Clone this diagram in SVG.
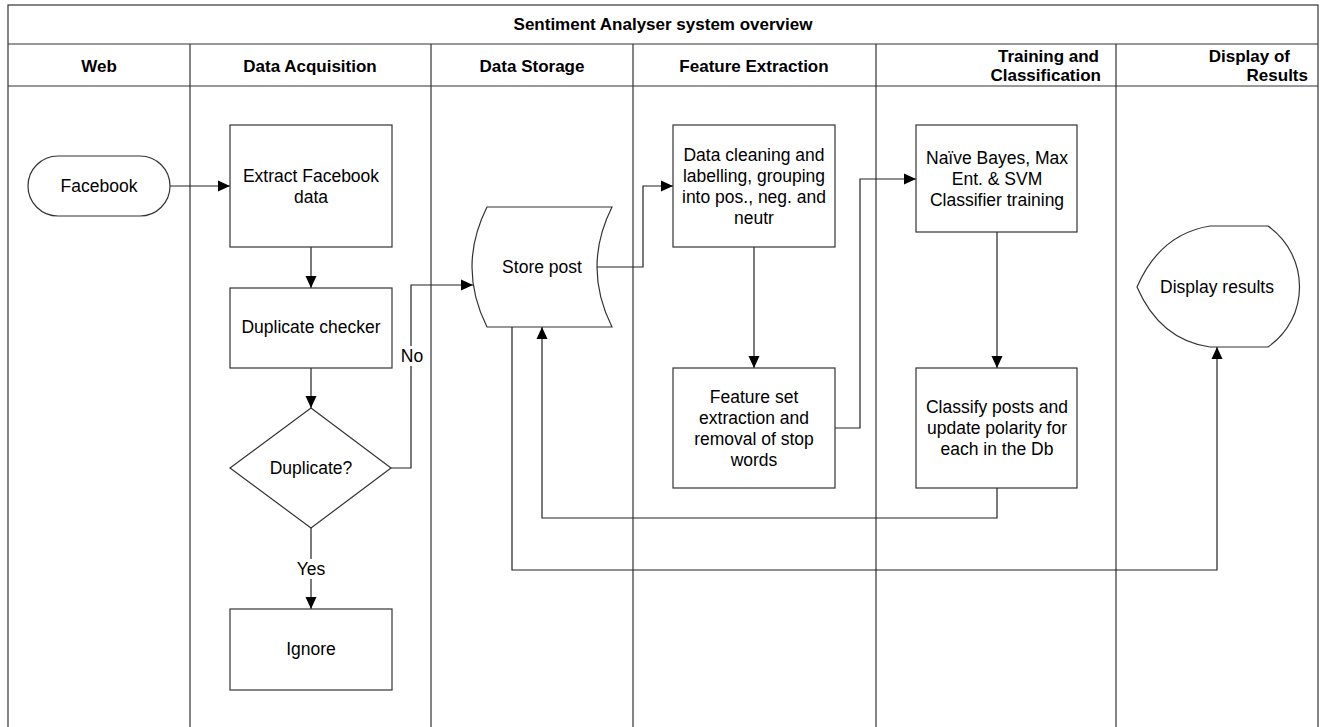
<svg xmlns="http://www.w3.org/2000/svg" width="1323" height="727" viewBox="0 0 1323 727">
<style>
.lane{fill:none;stroke:#333;stroke-width:1.2}
.node{fill:#fff;stroke:#333;stroke-width:1.2}
.t{font-family:"Liberation Sans",Arial,sans-serif;font-size:17.5px;fill:#000;text-anchor:middle;dominant-baseline:central}
.h{font-family:"Liberation Sans",Arial,sans-serif;font-size:17px;font-weight:bold;fill:#000;text-anchor:middle;dominant-baseline:central}
.c{fill:none;stroke:#222;stroke-width:1.2}
.lbl{fill:#fff;stroke:none}
</style>
<defs>
<marker id="arr" markerUnits="userSpaceOnUse" markerWidth="12" markerHeight="12" viewBox="0 0 12 12" refX="12" refY="6" orient="auto">
<path d="M0,0.5 L12,6 L0,11.5 Z" fill="#000"/>
</marker>
</defs>
<rect width="1323" height="727" fill="#fff"/>
<g id="swimlanes">
<rect class="lane" x="8" y="5" width="1310" height="730"/>
<line class="lane" x1="8" y1="44" x2="1318" y2="44"/>
<line class="lane" x1="8" y1="86" x2="1318" y2="86"/>
<line class="lane" x1="190" y1="44" x2="190" y2="727"/>
<line class="lane" x1="431" y1="44" x2="431" y2="727"/>
<line class="lane" x1="633" y1="44" x2="633" y2="727"/>
<line class="lane" x1="876" y1="44" x2="876" y2="727"/>
<line class="lane" x1="1116" y1="44" x2="1116" y2="727"/>
<text class="h" x="663" y="24">Sentiment Analyser system overview</text>
<text class="h" x="99" y="66">Web</text>
<text class="h" x="310" y="66">Data Acquisition</text>
<text class="h" x="532" y="66">Data Storage</text>
<text class="h" x="754" y="66">Feature Extraction</text>
<text class="h" x="1099" y="56" style="text-anchor:end">Training and</text>
<text class="h" x="1101" y="75" style="text-anchor:end">Classification</text>
<text class="h" x="1290" y="56" style="text-anchor:end">Display of</text>
<text class="h" x="1308" y="75" style="text-anchor:end">Results</text>
</g>
<g id="connectors">
<path class="c" d="M170,186 H230" marker-end="url(#arr)"/>
<path class="c" d="M311,247 V288" marker-end="url(#arr)"/>
<path class="c" d="M311,368 V408" marker-end="url(#arr)"/>
<path class="c" d="M311,528 V609" marker-end="url(#arr)"/>
<rect class="lbl" x="294" y="559" width="34" height="20"/>
<text class="t" x="311" y="569">Yes</text>
<path class="c" d="M391,468 H411 V285 H473" marker-end="url(#arr)"/>
<rect class="lbl" x="400" y="346" width="24" height="20"/>
<text class="t" x="412" y="356">No</text>
<path class="c" d="M597,267 H643 V186 H673" marker-end="url(#arr)"/>
<path class="c" d="M754,247 V368" marker-end="url(#arr)"/>
<path class="c" d="M835,428 H860 V179 H916" marker-end="url(#arr)"/>
<path class="c" d="M997,232 V368" marker-end="url(#arr)"/>
<path class="c" d="M997,488 V518 H542 V327" marker-end="url(#arr)"/>
<path class="c" d="M512,327 V570 H1217 V347" marker-end="url(#arr)"/>
</g>
<g id="facebook">
<rect class="node" x="28" y="156" width="142" height="60" rx="30"/>
<text class="t" x="99" y="186">Facebook</text>
</g>
<g id="extract">
<rect class="node" x="230" y="125" width="162" height="122"/>
<text class="t" x="311" y="175.5">Extract Facebook</text>
<text class="t" x="311" y="196.5">data</text>
</g>
<g id="dupchecker">
<rect class="node" x="230" y="288" width="162" height="80"/>
<text class="t" x="311" y="327">Duplicate checker</text>
</g>
<g id="duplicate">
<polygon class="node" points="311,408 391,468 311,528 230,468"/>
<text class="t" x="311" y="468">Duplicate?</text>
</g>
<g id="ignore">
<rect class="node" x="230" y="609" width="162" height="81"/>
<text class="t" x="311" y="649">Ignore</text>
</g>
<g id="store">
<path class="node" d="M487,207 L612,207 Q582,267 612,327 L487,327 Q457,267 487,207 Z"/>
<text class="t" x="542" y="267">Store post</text>
</g>
<g id="cleaning">
<rect class="node" x="673" y="125" width="162" height="122"/>
<text class="t" x="754" y="155">Data cleaning and</text>
<text class="t" x="754" y="176">labelling, grouping</text>
<text class="t" x="754" y="197">into pos., neg. and</text>
<text class="t" x="754" y="218">neutr</text>
</g>
<g id="features">
<rect class="node" x="673" y="368" width="162" height="120"/>
<text class="t" x="754" y="397">Feature set</text>
<text class="t" x="754" y="418">extraction and</text>
<text class="t" x="754" y="439">removal of stop</text>
<text class="t" x="754" y="460">words</text>
</g>
<g id="training">
<rect class="node" x="916" y="125" width="161" height="107"/>
<text class="t" x="997" y="157.5">Naïve Bayes, Max</text>
<text class="t" x="997" y="178.5">Ent. &amp; SVM</text>
<text class="t" x="997" y="199.5">Classifier training</text>
</g>
<g id="classify">
<rect class="node" x="916" y="368" width="161" height="120"/>
<text class="t" x="997" y="407">Classify posts and</text>
<text class="t" x="997" y="428">update polarity for</text>
<text class="t" x="997" y="449">each in the Db</text>
</g>
<g id="display">
<path class="node" d="M1210,226 L1268,226 C1310,256 1310,318 1268,347 L1210,347 Q1160,340 1137,287 Q1160,234 1210,226 Z"/>
<text class="t" x="1217" y="287">Display results</text>
</g>
</svg>
